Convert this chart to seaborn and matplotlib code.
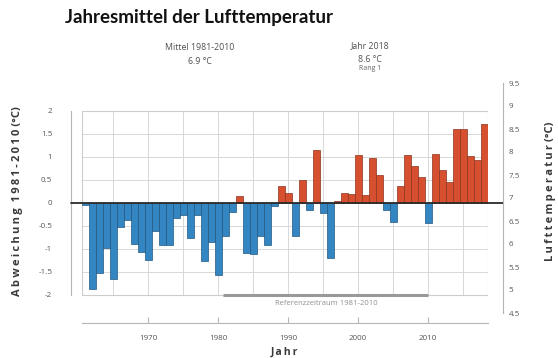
import numpy as np
import pandas as pd
import matplotlib
matplotlib.use("Agg")
import matplotlib.pyplot as plt
import matplotlib.transforms as mtransforms
from matplotlib.patches import Rectangle
from matplotlib.colors import to_rgb
import seaborn as sns

# Annual mean air temperature, deviation from the 1981-2010 mean
years = list(range(1961, 2019))
anomaly = [
    -0.06, -1.87, -1.53, -0.99, -1.66, -0.53, -0.37, -0.91, -1.08, -1.25,
    -0.61, -0.92, -0.92, -0.34, -0.27, -0.77, -0.27, -1.26, -0.85, -1.58,
    -0.72, -0.20, 0.14, -1.10, -1.12, -0.73, -0.92, -0.07, 0.37, 0.20,
    -0.73, 0.50, -0.17, 1.14, -0.23, -1.20, 0.04, 0.21, 0.19, 1.03,
    0.16, 0.96, 0.61, -0.15, -0.42, 0.36, 1.04, 0.79, 0.55, -0.45,
    1.06, 0.71, 0.45, 1.61, 1.61, 1.02, 0.92, 1.70,
]
baseline_mean = 6.9          # Mittel 1981-2010 in °C
latest_year = 2018
latest_temp = 8.6
latest_rank = 1
ref_start, ref_end = 1981, 2010

left_ticks = [-2, -1.5, -1, -0.5, 0, 0.5, 1, 1.5, 2]
right_ticks = [4.5, 5, 5.5, 6, 6.5, 7, 7.5, 8, 8.5, 9, 9.5]
x_ticks = [1970, 1980, 1990, 2000, 2010]

W, H = 558, 358
sns.set_theme(style="white")
plt.rcParams["font.family"] = ["Open Sans", "DejaVu Sans"]
plt.rcParams["axes.unicode_minus"] = False

fig = plt.figure(figsize=(W / 100, H / 100), dpi=100)
fig.patch.set_facecolor("white")
ax = fig.add_axes([81.5 / W, 1 - 313 / H, 406 / W, 230 / H])

df = pd.DataFrame({"Jahr": years, "Abweichung": anomaly})
df["Art"] = np.where(df["Abweichung"] >= 0, "wärmer", "kälter")
palette = {"wärmer": "#d6502f", "kälter": "#3486c3"}

sns.barplot(data=df, x="Jahr", y="Abweichung", hue="Art", palette=palette,
            native_scale=True, width=1.0, dodge=False, legend=False,
            saturation=1, ax=ax, zorder=2)
for p in ax.patches:
    r, g, b = to_rgb(p.get_facecolor())
    p.set_edgecolor((r * 0.65, g * 0.65, b * 0.65))
    p.set_linewidth(0.5)

x0, x1 = years[0] - 0.5, years[-1] + 0.5
ax.set_xlim(x0, x1)
ax.set_ylim(-2.4, 2.6)

# grid and frame of the plotting region
grid_c = "#d8d8d8"
for yv in left_ticks:
    ax.hlines(yv, x0, x1, color=grid_c, lw=0.7, zorder=0.5)
for xv in range(1965, 2016, 5):
    ax.vlines(xv, -2, 2, color=grid_c, lw=0.7, zorder=0.5)
ax.add_patch(Rectangle((x0, -2), x1 - x0, 4, fill=False, ec="#cccccc",
                       lw=0.8, zorder=0.6))

# zero line running between both axis spines
blend = mtransforms.blended_transform_factory(ax.transAxes, ax.transData)
ax.plot([-10.5 / 406, 1 + 15.5 / 406], [0, 0], transform=blend,
        color="#2b2b2b", lw=1.3, clip_on=False, zorder=4)

# reference period bar
ax.hlines(-2, ref_start - 0.3, ref_end, color="#999999", lw=2.2, zorder=3)
ax.text((ref_start + ref_end) / 2, -2.2, f"Referenzzeitraum {ref_start}-{ref_end}",
        ha="center", va="center", fontsize=5.5, color="#909090")

tick_c = "#555555"
spine_c = "#b5b5b5"
for s in ["top", "right"]:
    ax.spines[s].set_visible(False)
ax.spines["left"].set_position(("outward", 10.5 * 0.72))
ax.spines["left"].set_bounds(-2, 2)
ax.spines["left"].set_color(spine_c)
ax.spines["left"].set_linewidth(0.8)
ax.spines["bottom"].set_position(("outward", 10 * 0.72))
ax.spines["bottom"].set_bounds(x0, x1)
ax.spines["bottom"].set_color(spine_c)
ax.spines["bottom"].set_linewidth(0.8)

ax.set_yticks(left_ticks)
ax.set_yticklabels([f"{v:g}" for v in left_ticks])
ax.set_yticks([-2, -1, 0, 1, 2], minor=True)
ax.tick_params(axis="y", which="major", length=0, pad=13.5,
               labelsize=5.8, labelcolor=tick_c)
ax.tick_params(axis="y", which="minor", left=True, length=5,
               direction="inout", color=spine_c, width=0.8)

ax.set_xticks(x_ticks)
ax.set_xticklabels([str(v) for v in x_ticks])
ax.tick_params(axis="x", which="major", bottom=True, length=4, direction="in",
               color=spine_c, width=0.8, pad=8.5, labelsize=5.8, labelcolor=tick_c)
ax.set_xlabel("")
ax.set_ylabel("")

# absolute temperature axis on the right
ax2 = ax.twinx()
lo, hi = ax.get_ylim()
ax2.set_ylim(lo + baseline_mean, hi + baseline_mean)
for s in ["top", "left", "bottom"]:
    ax2.spines[s].set_visible(False)
ax2.spines["right"].set_position(("outward", 15.5 * 0.72))
ax2.spines["right"].set_bounds(right_ticks[0], right_ticks[-1])
ax2.spines["right"].set_color(spine_c)
ax2.spines["right"].set_linewidth(0.8)
ax2.set_yticks(right_ticks)
ax2.set_yticklabels([f"{v:g}" for v in right_ticks])
ax2.set_yticks([5, 6, 7, 8, 9], minor=True)
ax2.tick_params(axis="y", which="major", length=0, pad=4,
                labelsize=5.8, labelcolor=tick_c)
ax2.tick_params(axis="y", which="minor", right=True, length=5,
                direction="in", color=spine_c, width=0.8)
ax2.grid(False)

sp = "\u2009"
lab_c = "#3a3a3a"
note_c = "#505050"
fig.text(65 / W, 1 - 18 / H, "Jahresmittel der Lufttemperatur",
         ha="left", va="center", fontsize=13.5, fontweight="bold",
         color="#111111", family=["Lato", "DejaVu Sans"])

fig.text(200 / W, 1 - 47 / H, f"Mittel {ref_start}-{ref_end}", ha="center",
         va="center", fontsize=6.3, color=note_c)
fig.text(200 / W, 1 - 61 / H, f"{baseline_mean:g} °C", ha="center",
         va="center", fontsize=6.3, color=note_c)
fig.text(370 / W, 1 - 46 / H, f"Jahr {latest_year}", ha="center",
         va="center", fontsize=6.3, color=note_c)
fig.text(370 / W, 1 - 59 / H, f"{latest_temp:g} °C", ha="center",
         va="center", fontsize=6.3, color=note_c)
fig.text(370 / W, 1 - 69 / H, f"Rang {latest_rank}", ha="center",
         va="center", fontsize=5, color="#666666")

fig.text(18 / W, 1 - 201 / H,
         sp.join("Abweichung") + "  " + sp.join(f"{ref_start}-{ref_end}") + " (°C)",
         rotation=90, ha="center", va="center", fontsize=8,
         fontweight="bold", color=lab_c)
fig.text(551 / W, 1 - 191 / H, sp.join("Lufttemperatur") + " (°C)",
         rotation=90, ha="center", va="center", fontsize=8,
         fontweight="bold", color=lab_c)
fig.text(284.5 / W, 1 - 352 / H, sp.join("Jahr"), ha="center", va="center",
         fontsize=7.5, fontweight="bold", color=lab_c)

fig.savefig("out.png", dpi=100, facecolor="white")
